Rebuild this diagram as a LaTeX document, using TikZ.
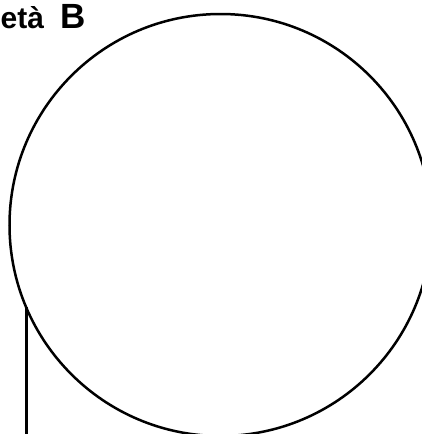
\documentclass[tikz,border=0pt]{standalone}
\usepackage{fontspec}
\setmainfont{Liberation Sans}
\usetikzlibrary{positioning}

\begin{document}
\begin{tikzpicture}[
  x=1pt, y=-1pt,
  font=\bfseries\fontsize{30}{36}\selectfont,
  lbl/.style={inner sep=0pt, anchor=base west},
  ring/.style={draw, circle, line width=2.5pt, inner sep=0pt, outer sep=0pt,
               minimum size=422pt},
  stem/.style={line width=2.5pt}
]
\useasboundingbox (0,0) rectangle (422,434);
\node[lbl]  (title) at (0.5,28) {età\hspace{0.55em}{\fontsize{35}{36}\selectfont B}};
\node[ring] (disc)  at (220.5,225) {};
\coordinate (foot) at (26,436);
\draw[stem] (disc.203.6) -- (disc.203.6 |- foot);
\end{tikzpicture}
\end{document}
